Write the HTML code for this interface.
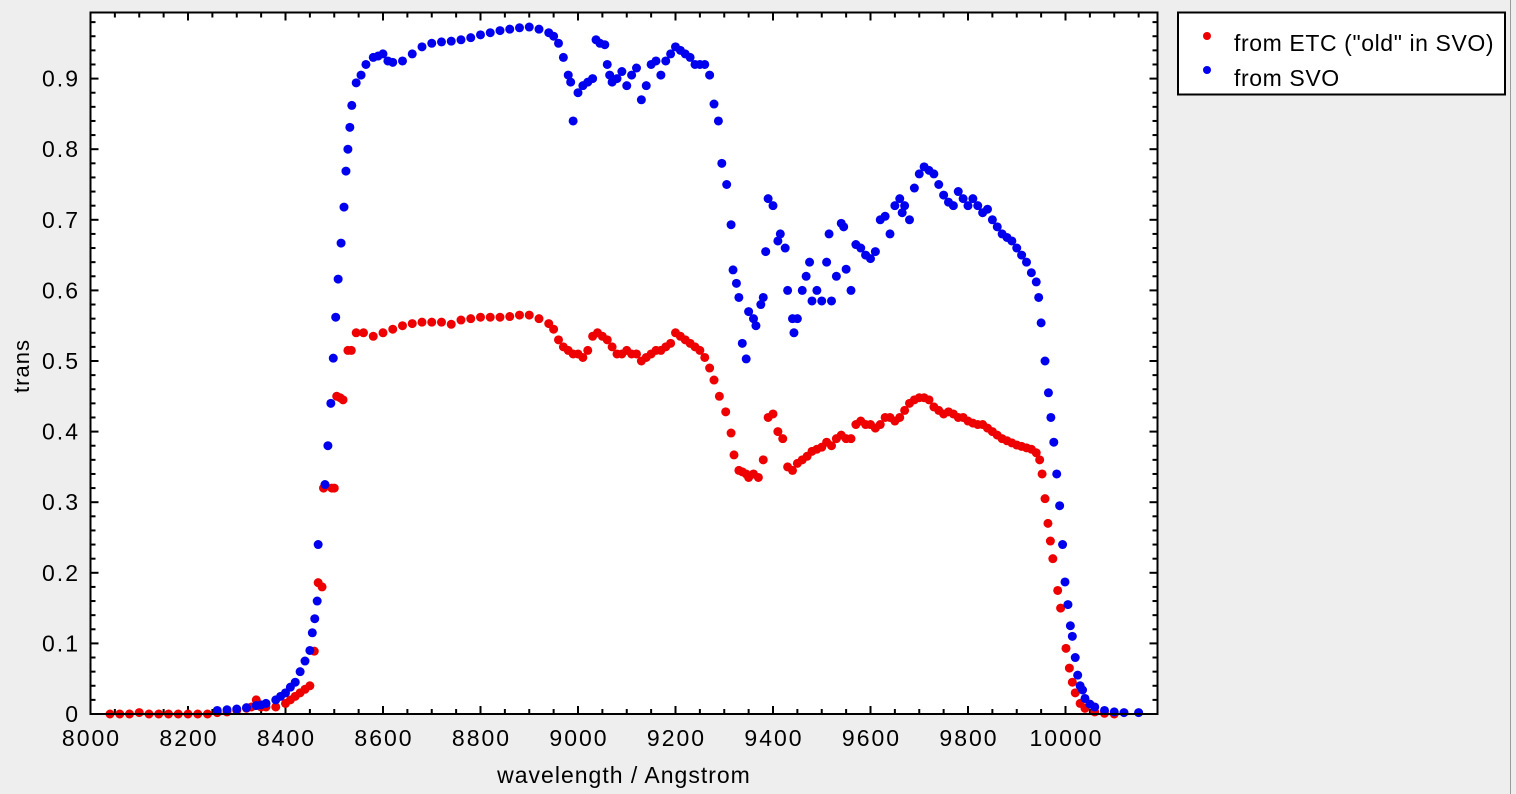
<!DOCTYPE html>
<html><head><meta charset="utf-8"><style>
html,body{margin:0;padding:0;background:#eeeeee;width:1516px;height:794px;overflow:hidden}
svg{display:block;font-family:"Liberation Sans","DejaVu Sans",sans-serif}
</style></head><body>
<svg id="chart" width="1516" height="794" xmlns="http://www.w3.org/2000/svg">
<rect x="0" y="0" width="1516" height="794" fill="#eeeeee"/>
<line x1="1510.5" y1="0" x2="1510.5" y2="794" stroke="#9a9a9a" stroke-width="1"/>
<rect x="90.5" y="12.5" width="1067" height="701.5" fill="#ffffff"/>
<g id="ticks"></g>
<g id="series-etc"></g>
<g id="series-svo"></g>
<rect x="90.5" y="12.5" width="1067" height="701.5" fill="none" stroke="#000" stroke-width="2"/>
<text x="624" y="783" font-size="23" letter-spacing="1" text-anchor="middle" fill="#000">wavelength / Angstrom</text>
<text x="0" y="0" font-size="22" letter-spacing="1" text-anchor="middle" fill="#000" transform="translate(29,366) rotate(-90)">trans</text>
<g>
<rect x="1178" y="12.5" width="327" height="82" fill="#ffffff" stroke="#000" stroke-width="2"/>
<circle cx="1207" cy="36" r="4" fill="#ee0000"/>
<text x="1234" y="51" font-size="23" letter-spacing="0.6" fill="#000">from ETC ("old" in SVO)</text>
<circle cx="1207" cy="70" r="4" fill="#0000ee"/>
<text x="1234" y="86" font-size="23" letter-spacing="0.6" fill="#000">from SVO</text>
</g>
</svg>
<script>
const xTicks=[8000,8200,8400,8600,8800,9000,9200,9400,9600,9800,10000];
const yTicks=[0,0.1,0.2,0.3,0.4,0.5,0.6,0.7,0.8,0.9];
const yTickLabels=["0","0.1","0.2","0.3","0.4","0.5","0.6","0.7","0.8","0.9"];
const etcWave=[8040,8060,8080,8100,8120,8140,8160,8180,8200,8220,8240,8260,8280,8300,8320,8330,8340,8350,8360,8380,8400,8410,8420,8430,8440,8450,8459,8467,8475,8478,8495,8500,8505,8512,8518,8528,8535,8545,8560,8580,8600,8620,8640,8660,8680,8700,8720,8740,8760,8780,8800,8820,8840,8860,8880,8900,8920,8940,8950,8960,8970,8980,8990,9000,9010,9020,9030,9040,9050,9060,9070,9080,9090,9100,9110,9120,9130,9140,9150,9160,9170,9180,9190,9200,9210,9220,9230,9240,9250,9260,9270,9279,9290,9303,9314,9320,9330,9337,9345,9350,9360,9370,9380,9390,9400,9410,9420,9430,9440,9450,9460,9470,9480,9490,9500,9510,9520,9530,9540,9550,9560,9570,9580,9590,9600,9610,9620,9630,9640,9650,9660,9670,9680,9690,9700,9710,9720,9730,9740,9750,9760,9770,9780,9790,9800,9810,9820,9830,9840,9850,9860,9870,9880,9890,9900,9910,9920,9930,9940,9947,9952,9958,9964,9969,9974,9984,9990,10001,10008,10014,10020,10030,10040,10060,10080,10100];
const etcTrans=[0,0,0,0.002,0,0,0,0,0,0,0,0.002,0.003,0.005,0.008,0.01,0.02,0.01,0.01,0.01,0.015,0.02,0.025,0.03,0.035,0.04,0.089,0.186,0.18,0.32,0.32,0.32,0.45,0.448,0.445,0.515,0.515,0.54,0.54,0.535,0.54,0.545,0.55,0.553,0.555,0.555,0.555,0.552,0.558,0.56,0.562,0.562,0.562,0.563,0.565,0.565,0.56,0.553,0.545,0.53,0.52,0.515,0.51,0.51,0.505,0.515,0.535,0.54,0.535,0.53,0.52,0.51,0.51,0.515,0.51,0.51,0.5,0.505,0.51,0.515,0.515,0.52,0.525,0.54,0.535,0.53,0.525,0.52,0.515,0.505,0.49,0.473,0.45,0.428,0.398,0.367,0.345,0.343,0.34,0.335,0.34,0.335,0.36,0.42,0.425,0.4,0.39,0.35,0.345,0.355,0.36,0.365,0.372,0.375,0.378,0.385,0.38,0.39,0.395,0.39,0.39,0.41,0.415,0.41,0.41,0.405,0.41,0.42,0.42,0.415,0.42,0.43,0.44,0.445,0.448,0.448,0.445,0.435,0.43,0.425,0.428,0.425,0.42,0.42,0.415,0.412,0.41,0.41,0.405,0.4,0.395,0.39,0.387,0.384,0.381,0.379,0.377,0.375,0.37,0.36,0.34,0.305,0.27,0.245,0.22,0.175,0.15,0.093,0.065,0.045,0.03,0.015,0.008,0.003,0.001,0];
const svoWave=[8260,8280,8300,8320,8340,8350,8360,8380,8390,8400,8410,8420,8430,8440,8450,8455,8460,8465,8467,8481,8487,8493,8498,8503,8508,8514,8520,8524,8528,8532,8536,8545,8555,8565,8580,8590,8600,8610,8620,8640,8660,8680,8700,8720,8740,8760,8780,8800,8820,8840,8860,8880,8900,8920,8940,8950,8960,8970,8980,8985,8990,9000,9010,9020,9030,9037,9045,9055,9060,9065,9070,9080,9090,9100,9110,9120,9130,9140,9150,9160,9170,9180,9190,9200,9210,9220,9230,9240,9250,9260,9270,9279,9288,9295,9305,9314,9318,9325,9330,9337,9345,9350,9360,9365,9375,9380,9385,9390,9400,9410,9415,9425,9430,9440,9443,9450,9460,9468,9475,9480,9490,9500,9510,9515,9520,9530,9540,9545,9550,9560,9570,9580,9590,9600,9610,9620,9630,9640,9650,9660,9665,9670,9680,9690,9700,9710,9720,9730,9740,9750,9760,9770,9780,9790,9800,9810,9820,9830,9840,9850,9860,9870,9880,9890,9900,9910,9920,9930,9940,9945,9950,9958,9965,9970,9976,9982,9988,9994,9999,10005,10010,10014,10020,10025,10030,10035,10040,10050,10060,10080,10100,10120,10150];
const svoTrans=[0.005,0.006,0.007,0.009,0.012,0.013,0.015,0.02,0.025,0.03,0.038,0.045,0.06,0.075,0.09,0.115,0.135,0.16,0.24,0.325,0.38,0.44,0.504,0.562,0.616,0.667,0.718,0.769,0.80,0.831,0.862,0.894,0.905,0.92,0.93,0.932,0.935,0.925,0.923,0.925,0.935,0.945,0.95,0.952,0.953,0.955,0.958,0.962,0.965,0.968,0.97,0.972,0.973,0.97,0.965,0.96,0.95,0.93,0.905,0.895,0.84,0.88,0.89,0.895,0.9,0.955,0.95,0.948,0.92,0.905,0.895,0.9,0.91,0.89,0.905,0.915,0.87,0.89,0.92,0.925,0.905,0.925,0.935,0.945,0.94,0.935,0.93,0.92,0.92,0.92,0.905,0.864,0.84,0.78,0.75,0.693,0.629,0.61,0.59,0.525,0.503,0.57,0.56,0.55,0.58,0.59,0.655,0.73,0.72,0.67,0.68,0.66,0.6,0.56,0.54,0.56,0.6,0.62,0.64,0.585,0.6,0.585,0.64,0.68,0.585,0.62,0.695,0.69,0.63,0.6,0.665,0.66,0.65,0.645,0.655,0.7,0.705,0.68,0.72,0.73,0.71,0.72,0.7,0.745,0.765,0.775,0.77,0.765,0.75,0.735,0.725,0.72,0.74,0.73,0.72,0.73,0.72,0.71,0.715,0.7,0.69,0.68,0.675,0.67,0.66,0.65,0.64,0.625,0.612,0.59,0.554,0.5,0.455,0.42,0.385,0.34,0.295,0.24,0.187,0.155,0.125,0.11,0.08,0.055,0.04,0.034,0.022,0.014,0.01,0.005,0.003,0.002,0.002];

const NS='http://www.w3.org/2000/svg';
function sx(w){return 90.5+(w-8000)*97.5/200;}
function sy(v){return 714-v*706;}
const tg=document.getElementById('ticks');
function line(x1,y1,x2,y2,name){
  const l=document.createElementNS(NS,'line');
  l.setAttribute('x1',x1);l.setAttribute('y1',y1);l.setAttribute('x2',x2);l.setAttribute('y2',y2);
  l.setAttribute('stroke','#000');l.setAttribute('stroke-width','2');
  
  
  tg.appendChild(l);
}
function label(x,y,s,anchor,name){
  const t=document.createElementNS(NS,'text');
  t.setAttribute('x',x);t.setAttribute('y',y);t.setAttribute('font-size','23');
  t.setAttribute('letter-spacing','2');
  t.setAttribute('text-anchor',anchor);t.setAttribute('fill','#000');
  t.textContent=s;
  
  
  tg.appendChild(t);
}
for(let w=8000;w<=10150;w+=50){
  const x=sx(w);if(x<91||x>1157)continue;
  const major=(w%200===0);const len=major?8:5;
  line(x,714,x,714-len,'x-tick');
  line(x,12.5,x,12.5+len,'x-tick-top');
}
xTicks.forEach(w=>label(sx(w)+1,746,String(w),'middle','x-tick-label'));
for(let i=0;i<=49;i++){
  const v=i*0.02;const y=sy(v);if(y<13)continue;
  const major=(i%5===0);const len=major?8:5;
  line(90.5,y,90.5+len,y,'y-tick');
  line(1157.5,y,1157.5-len,y,'y-tick-right');
}
yTicks.forEach((v,i)=>label(80,sy(v)+8,yTickLabels[i],'end','y-tick-label'));
function drawSeries(gid,ws,vs,color,name){
  const g=document.getElementById(gid);
  for(let i=0;i<ws.length;i++){
    const c=document.createElementNS(NS,'circle');
    c.setAttribute('cx',sx(ws[i]));c.setAttribute('cy',sy(vs[i]));c.setAttribute('r','4.5');
    c.setAttribute('fill',color);
    
    
    g.appendChild(c);
  }
}
drawSeries('series-etc',etcWave,etcTrans,'#ee0000','etc-point');
drawSeries('series-svo',svoWave,svoTrans,'#0000ee','svo-point');
</script>
</body></html>
